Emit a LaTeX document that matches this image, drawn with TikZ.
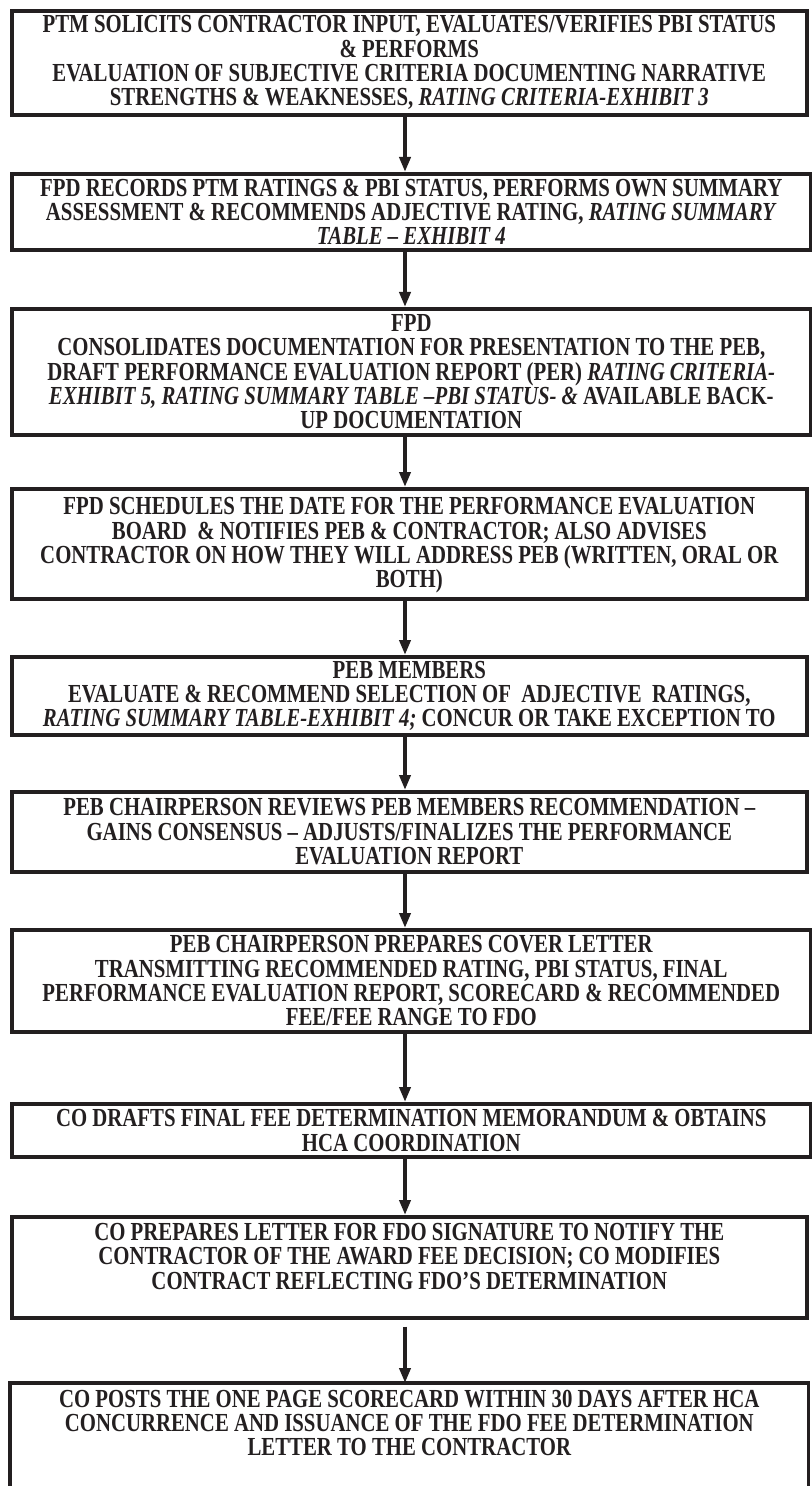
\documentclass[tikz,border=0pt]{standalone}
\usepackage{fontspec}
\setmainfont[FakeStretch=0.8]{Liberation Serif}
\usepackage{tikz}
\usetikzlibrary{arrows.meta}
\definecolor{ink}{HTML}{231F20}

\begin{document}
\begin{tikzpicture}[x=0.5pt,y=-0.5pt,
    stage/.style={draw=ink,line width=1.8pt,anchor=north west,inner sep=0pt,align=center,
      font=\fontsize{13}{12.2}\selectfont\bfseries,text=ink},
    flow/.style={ink,line width=2pt,-{Triangle[length=7.5pt,width=5.5pt]}}]
  \useasboundingbox (0,0) rectangle (811,1486);
  \coordinate (spine) at (405,0);
  % the ten stages, top to bottom
  \node[stage,minimum width=397.5pt,minimum height=52pt](ptm) at (10,9){PTM SOLICITS CONTRACTOR INPUT, EVALUATES/VERIFIES PBI STATUS\\ \& PERFORMS\\ EVALUATION OF SUBJECTIVE CRITERIA DOCUMENTING NARRATIVE\\ STRENGTHS \& WEAKNESSES, \textit{RATING CRITERIA-EXHIBIT 3}};
  \node[stage,minimum width=399.5pt,minimum height=38pt](fpdrec) at (10,172){FPD RECORDS PTM RATINGS \& PBI STATUS, PERFORMS OWN SUMMARY\\ ASSESSMENT \& RECOMMENDS ADJECTIVE RATING, \textit{RATING SUMMARY}\\ \textit{TABLE -- EXHIBIT 4}};
  \node[stage,minimum width=399.5pt,minimum height=63pt](fpdcons) at (10,307){FPD\\ CONSOLIDATES DOCUMENTATION FOR PRESENTATION TO THE PEB,\\ DRAFT PERFORMANCE EVALUATION REPORT (PER) \textit{RATING CRITERIA-}\\ \textit{EXHIBIT 5, RATING SUMMARY TABLE --PBI STATUS- \&} AVAILABLE BACK-\\ UP DOCUMENTATION};
  \node[stage,minimum width=397.5pt,minimum height=55pt](fpdsched) at (10,487){\mbox{}\\[-2pt]FPD SCHEDULES THE DATE FOR THE PERFORMANCE EVALUATION\\ BOARD\ \ \& NOTIFIES PEB \& CONTRACTOR; ALSO ADVISES\\ CONTRACTOR ON HOW THEY WILL ADDRESS PEB (WRITTEN, ORAL OR\\ BOTH)};
  \node[stage,minimum width=397.5pt,minimum height=39pt](pebmem) at (10,655){PEB MEMBERS\\ EVALUATE \& RECOMMEND SELECTION OF\ \ ADJECTIVE\ \ RATINGS,\\ \textit{RATING SUMMARY TABLE-EXHIBIT 4;} CONCUR OR TAKE EXCEPTION TO};
  \node[stage,minimum width=397.5pt,minimum height=40pt](chrev) at (10,790){PEB CHAIRPERSON REVIEWS PEB MEMBERS RECOMMENDATION --\\ GAINS CONSENSUS -- ADJUSTS/FINALIZES THE PERFORMANCE\\ EVALUATION REPORT};
  \node[stage,minimum width=399.5pt,minimum height=51pt](chcover) at (10,928){PEB CHAIRPERSON PREPARES COVER LETTER\\ TRANSMITTING RECOMMENDED RATING, PBI STATUS, FINAL\\ PERFORMANCE EVALUATION REPORT, SCORECARD \& RECOMMENDED\\ FEE/FEE RANGE TO FDO};
  \node[stage,minimum width=399.5pt,minimum height=26.5pt](codraft) at (10,1102){CO DRAFTS FINAL FEE DETERMINATION MEMORANDUM \& OBTAINS\\ HCA COORDINATION};
  \node[stage,minimum width=397.5pt,minimum height=50.5pt](coletter) at (10,1215){CO PREPARES LETTER FOR FDO SIGNATURE TO NOTIFY THE\\ CONTRACTOR OF THE AWARD FEE DECISION; CO MODIFIES\\ CONTRACT REFLECTING FDO’S DETERMINATION\\[-1pt]\mbox{}};
  \node[stage,draw=none,minimum width=397.5pt,minimum height=66pt](copost) at (10,1383){CO POSTS THE ONE PAGE SCORECARD WITHIN 30 DAYS AFTER HCA\\ CONCURRENCE AND ISSUANCE OF THE FDO FEE DETERMINATION\\ LETTER TO THE CONTRACTOR\\ \strut\\ \strut};
  \draw[ink,line width=1.8pt] (copost.south west) -- (copost.north west) -- (copost.north east) -- (copost.south east);
  % arrows
  \draw[flow] (ptm.south -| spine) -- (fpdrec.north -| spine);
  \draw[flow] (fpdrec.south -| spine) -- (fpdcons.north -| spine);
  \draw[flow] (fpdcons.south -| spine) -- (fpdsched.north -| spine);
  \draw[flow] (fpdsched.south -| spine) -- (pebmem.north -| spine);
  \draw[flow] (pebmem.south -| spine) -- (chrev.north -| spine);
  \draw[flow] (chrev.south -| spine) -- (chcover.north -| spine);
  \draw[flow] (chcover.south -| spine) -- (codraft.north -| spine);
  \draw[flow] (codraft.south -| spine) -- (coletter.north -| spine);
  \draw[flow] ([yshift=-3.5pt]coletter.south -| spine) -- (copost.north -| spine);
\end{tikzpicture}
\end{document}
